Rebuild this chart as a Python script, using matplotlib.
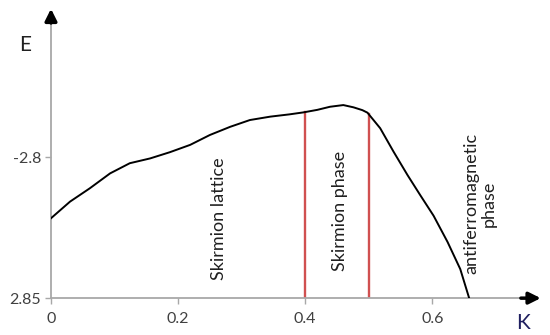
import matplotlib
matplotlib.use('Agg')
import matplotlib.pyplot as plt

# energy curve
k_vals = [0.0, 0.03, 0.061, 0.093, 0.124, 0.156, 0.187, 0.219, 0.25, 0.282, 0.313,
          0.345, 0.375, 0.397, 0.419, 0.439, 0.46, 0.476, 0.49, 0.498, 0.518, 0.539,
          0.561, 0.581, 0.602, 0.624, 0.644, 0.658]
e_vals = [-2.8217, -2.8158, -2.8111, -2.8058, -2.8022, -2.8005, -2.7983, -2.7957,
          -2.7922, -2.7893, -2.7869, -2.7857, -2.7849, -2.7842, -2.7833, -2.7822,
          -2.7816, -2.7824, -2.7834, -2.7843, -2.7898, -2.7981, -2.8064, -2.8135,
          -2.8208, -2.8301, -2.8397, -2.8500]

# phase boundaries and their heights on the curve
bound_k = [0.4, 0.5]
bound_e = [-2.7841, -2.7846]

xtick_vals = [0, 0.2, 0.4, 0.6]
xtick_labels = ['0', '0.2', '0.4', '0.6']
ytick_vals = [-2.85, -2.8]
ytick_labels = ['2.85', '-2.8']

phase_labels = ['Skirmion lattice', 'Skirmion phase', 'antiferromagnetic\nphase']
phase_pos = [(0.2646, -2.8218), (0.455, -2.8191), (0.675, -2.8165)]


def main():
	plt.rcParams['font.family'] = ['Lato', 'DejaVu Sans']
	fig = plt.figure(figsize=(5.5, 3.35), dpi=100)
	ax = fig.add_axes([0.0927, 0.110, 0.862, 0.83])

	ax.plot(k_vals, e_vals, color='black', lw=1.4, zorder=3)
	for k, e in zip(bound_k, bound_e):
		ax.plot([k, k], [-2.85, e], color='#d05050', lw=1.7, zorder=2)

	ax.set_xlim(0, 0.746)
	ax.set_ylim(-2.85, -2.7515)

	for s in ['top', 'right']:
		ax.spines[s].set_visible(False)
	for s in ['left', 'bottom']:
		ax.spines[s].set_color('#a8a8a8')
		ax.spines[s].set_linewidth(1.3)

	ax.set_xticks(xtick_vals)
	ax.set_xticklabels(xtick_labels)
	ax.set_yticks(ytick_vals)
	ax.set_yticklabels(ytick_labels)
	ax.tick_params(colors='#a8a8a8', labelcolor='#404040', labelsize=11.5, length=4, width=1)
	ax.tick_params(axis='x', pad=6)
	ax.tick_params(axis='y', pad=3)

	# arrows at the ends of the axes
	ax.annotate('', xy=(0.775, -2.85), xytext=(0.735, -2.85), xycoords='data',
		arrowprops=dict(arrowstyle='-|>,head_width=0.35,head_length=0.7', color='black', lw=2.5),
		annotation_clip=False)
	ax.annotate('', xy=(0, -2.7465), xytext=(0, -2.7535), xycoords='data',
		arrowprops=dict(arrowstyle='-|>,head_width=0.35,head_length=0.7', color='black', lw=2.5),
		annotation_clip=False)

	fig.text(25 / 550, 1 - 45 / 335, 'E', fontsize=15, color='#202020', ha='center', va='center')
	fig.text(523 / 550, 1 - 323 / 335, 'K', fontsize=15, color='#202060', ha='center', va='center')

	for txt, (x, y) in zip(phase_labels, phase_pos):
		ax.text(x, y, txt, rotation=90, ha='center', va='center', fontsize=13,
			color='#202020', linespacing=1.15)

	fig.savefig('out.png', dpi=100)


if __name__ == '__main__':
	main()
